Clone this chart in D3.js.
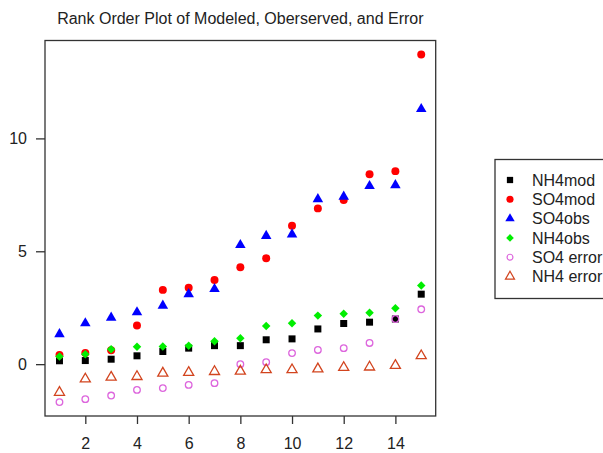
<!DOCTYPE html>
<html>
<head>
<meta charset="utf-8">
<script src="https://cdn.jsdelivr.net/npm/d3@7"></script>
<style>
  body { margin: 0; background: #fff; }
  text { font-family: "Liberation Sans", Arial, sans-serif; fill: #222; }
</style>
</head>
<body>
<svg id="chart" width="603" height="453"></svg>
<script>
// rank order values, ranks 1..15
var ranks = d3.range(1, 16);
var nh4mod = [0.15, 0.16, 0.22, 0.37, 0.56, 0.71, 0.82, 0.82, 1.08, 1.12, 1.56, 1.80, 1.86, 2.00, 3.10];
var so4mod = [0.41, 0.49, 0.62, 1.71, 3.29, 3.39, 3.73, 4.29, 4.69, 6.13, 6.90, 7.27, 8.41, 8.55, 13.72];
var so4obs = [1.33, 1.81, 2.06, 2.30, 2.59, 3.10, 3.33, 5.28, 5.68, 5.75, 7.31, 7.42, 7.89, 7.93, 11.30];
var nh4obs = [0.34, 0.44, 0.66, 0.77, 0.78, 0.82, 1.02, 1.15, 1.69, 1.81, 2.15, 2.23, 2.28, 2.48, 3.48];
var so4err = [-1.68, -1.55, -1.39, -1.14, -1.06, -0.92, -0.84, 0.00, 0.09, 0.49, 0.63, 0.71, 0.94, 2.00, 2.43];
var nh4err = [-1.25, -0.66, -0.58, -0.55, -0.40, -0.37, -0.33, -0.31, -0.25, -0.25, -0.21, -0.15, -0.13, -0.06, 0.37];

var seriesNames = ["NH4mod", "SO4mod", "SO4obs", "NH4obs", "SO4 error", "NH4 error"];
var xTicks = [2, 4, 6, 8, 10, 12, 14];
var yTicks = [0, 5, 10];

// R's pch 18: a square turned 45 degrees
var squareDiamond = {
    draw(context, size) {
        const r = Math.sqrt(size / 2);
        context.moveTo(0, -r);
        context.lineTo(r, 0);
        context.lineTo(0, r);
        context.lineTo(-r, 0);
        context.closePath();
    }
};

var series = [
    {name: seriesNames[0], values: nh4mod, shape: d3.symbolSquare, size: 49, fill: "#000", stroke: "none"},
    {name: seriesNames[1], values: so4mod, shape: d3.symbolCircle, size: 50, fill: "#ff0000", stroke: "none"},
    {name: seriesNames[2], values: so4obs, shape: d3.symbolTriangle, size: 48, fill: "#0000ff", stroke: "none"},
    {name: seriesNames[3], values: nh4obs, shape: squareDiamond, size: 36, fill: "#00ee00", stroke: "none"},
    {name: seriesNames[4], values: so4err, shape: d3.symbolCircle, size: 34, fill: "none", stroke: "#dd66dd"},
    {name: seriesNames[5], values: nh4err, shape: d3.symbolTriangle, size: 44, fill: "none", stroke: "#d2441e"}
];

var svg = d3.select("#chart");
var margin = {left: 45, top: 40.5, right: 435.7, bottom: 416};

// R style 4% padding around the data range
var all = d3.merge(series.map(s => s.values));
var yMin = d3.min(all), yMax = d3.max(all);
var yPad = (yMax - yMin) * 0.04;
var xPad = (15 - 1) * 0.04;

var x = d3.scaleLinear().domain([1 - xPad, 15 + xPad]).range([margin.left, margin.right]);
var y = d3.scaleLinear().domain([yMin - yPad, yMax + yPad]).range([margin.bottom, margin.top]);

svg.append("text")
    .attr("x", (margin.left + margin.right) / 2)
    .attr("y", 24)
    .attr("text-anchor", "middle")
    .attr("font-size", 16)
    .text("Rank Order Plot of Modeled, Oberserved, and Error");

var xAxis = svg.append("g")
    .attr("transform", `translate(0,${margin.bottom})`)
    .call(d3.axisBottom(x).tickValues(xTicks).tickSize(8).tickPadding(14).tickFormat(d3.format("d")));
var yAxis = svg.append("g")
    .attr("transform", `translate(${margin.left},0)`)
    .call(d3.axisLeft(y).tickValues(yTicks).tickSize(9).tickPadding(9).tickFormat(d3.format("d")));

[xAxis, yAxis].forEach(a => {
    a.select(".domain").remove();
    a.selectAll("line").attr("stroke", "#333").attr("stroke-width", 1.3);
    a.selectAll("text").attr("font-size", 16).attr("font-family", "Liberation Sans, Arial, sans-serif").attr("fill", "#333");
});

svg.append("rect")
    .attr("x", margin.left)
    .attr("y", margin.top)
    .attr("width", margin.right - margin.left)
    .attr("height", margin.bottom - margin.top)
    .attr("fill", "none")
    .attr("stroke", "#333")
    .attr("stroke-width", 1.3);

var plot = svg.append("g");
series.forEach(s => {
    plot.append("g")
        .selectAll("path")
        .data(s.values)
        .enter().append("path")
        .attr("transform", (d, i) => `translate(${x(ranks[i])},${y(d)})`)
        .attr("d", d3.symbol().type(s.shape).size(s.size))
        .attr("fill", s.fill)
        .attr("stroke", s.stroke)
        .attr("stroke-width", 1.3);
});

// legend
var legend = svg.append("g").attr("transform", "translate(495,159.5)");
legend.append("rect")
    .attr("width", 130)
    .attr("height", 139)
    .attr("fill", "#fff")
    .attr("stroke", "#333")
    .attr("stroke-width", 1.3);

var item = legend.selectAll("g.item")
    .data(series)
    .enter().append("g")
    .attr("class", "item")
    .attr("transform", (d, i) => `translate(15,${20.5 + i * 19.3})`);

item.append("path")
    .attr("d", d => d3.symbol().type(d.shape).size(d.size * 0.8)())
    .attr("fill", d => d.fill)
    .attr("stroke", d => d.stroke)
    .attr("stroke-width", 1.2);

item.append("text")
    .attr("x", 22)
    .attr("dy", "0.36em")
    .attr("font-size", 16)
    .text(d => d.name);
</script>
</body>
</html>
